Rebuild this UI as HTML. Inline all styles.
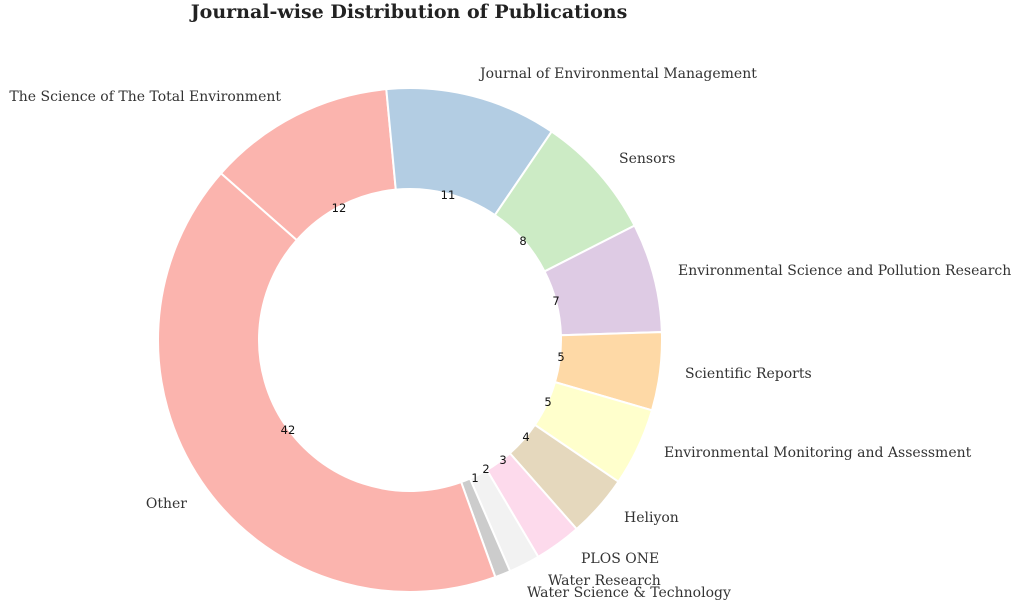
<!DOCTYPE html>
<html><head><meta charset="utf-8"><style>
html,body{margin:0;padding:0;background:#fff;width:1024px;height:602px;overflow:hidden}
svg text{font-family:"DejaVu Serif","Liberation Serif",serif;fill:#333;font-size:14px}
svg text.n{font-family:"DejaVu Sans","Liberation Sans",sans-serif;fill:#111;font-size:11.5px}
</style></head><body>
<svg id="s" width="1024" height="602" xmlns="http://www.w3.org/2000/svg">
<text x="409" y="18" text-anchor="middle" style="font-weight:bold;font-size:19px;fill:#222">Journal-wise Distribution of Publications</text>
<g id="w"></g>
<text x="281" y="101" text-anchor="end">The Science of The Total Environment</text>
<text x="480" y="78">Journal of Environmental Management</text>
<text x="619" y="163">Sensors</text>
<text x="678" y="275">Environmental Science and Pollution Research</text>
<text x="685" y="378">Scientific Reports</text>
<text x="664" y="457">Environmental Monitoring and Assessment</text>
<text x="624" y="522">Heliyon</text>
<text x="581" y="563">PLOS ONE</text>
<text x="548" y="585">Water Research</text>
<text x="527" y="597">Water Science &amp; Technology</text>
<text x="187" y="508" text-anchor="end">Other</text>
<text class="n" x="339" y="212" text-anchor="middle">12</text>
<text class="n" x="448" y="199" text-anchor="middle">11</text>
<text class="n" x="523" y="245" text-anchor="middle">8</text>
<text class="n" x="556" y="305" text-anchor="middle">7</text>
<text class="n" x="561" y="361" text-anchor="middle">5</text>
<text class="n" x="548" y="406" text-anchor="middle">5</text>
<text class="n" x="526" y="441" text-anchor="middle">4</text>
<text class="n" x="503" y="464" text-anchor="middle">3</text>
<text class="n" x="486" y="473" text-anchor="middle">2</text>
<text class="n" x="475" y="482" text-anchor="middle">1</text>
<text class="n" x="288" y="434" text-anchor="middle">42</text>
</svg>
<script>
var v=[12,11,8,7,5,5,4,3,2,1,42];
var c=["#fbb4ae","#b3cde3","#ccebc5","#decbe4","#fed9a6","#ffffcc","#e5d8bd","#fddaec","#f2f2f2","#cccccc","#fbb4ae"];
var cx=410,cy=340,R=252,r=151,a=-48.6,g=document.getElementById("w"),h="";
function p(rad,d){var t=d*Math.PI/180;return (cx+rad*Math.sin(t)).toFixed(2)+","+(cy-rad*Math.cos(t)).toFixed(2);}
for(var i=0;i<v.length;i++){var b=a+v[i]*3.6,l=v[i]*3.6>180?1:0;
h+='<path d="M'+p(R,a)+' A'+R+','+R+' 0 '+l+' 1 '+p(R,b)+' L'+p(r,b)+' A'+r+','+r+' 0 '+l+' 0 '+p(r,a)+' Z" fill="'+c[i]+'" stroke="#fff" stroke-width="2"/>';a=b;}
g.innerHTML=h;
</script>
</body></html>
